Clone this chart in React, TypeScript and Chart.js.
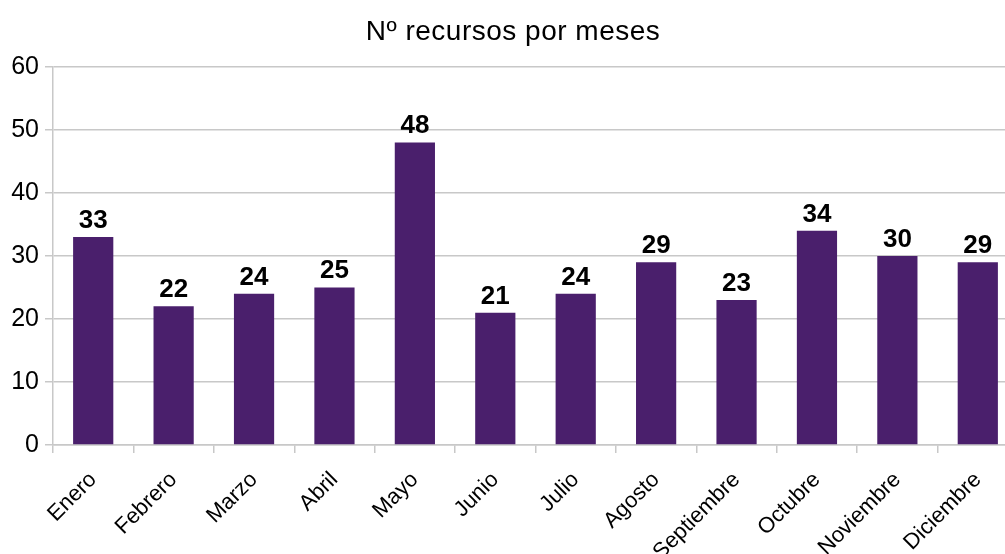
import React, { useEffect, useRef } from "react";
import { Chart, registerables } from "chart.js";

Chart.register(...registerables);

const categories = ["Enero", "Febrero", "Marzo", "Abril", "Mayo", "Junio", "Julio", "Agosto", "Septiembre", "Octubre", "Noviembre", "Diciembre"];
const recursos = [33, 22, 24, 25, 48, 21, 24, 29, 23, 34, 30, 29];
const yTicks = [0, 10, 20, 30, 40, 50, 60];
const titleText = "Nº recursos por meses";

const FONT = "'Liberation Sans', Arial, sans-serif";

const valueLabels = {
  id: "valueLabels",
  afterDatasetsDraw(chart: any) {
    const ctx = chart.ctx;
    const meta = chart.getDatasetMeta(0);
    const data = chart.data.datasets[0].data;
    ctx.save();
    ctx.font = `bold 26px ${FONT}`;
    ctx.fillStyle = "#000";
    ctx.textAlign = "center";
    ctx.textBaseline = "alphabetic";
    meta.data.forEach((bar: any, i: number) => {
      ctx.fillText(String(data[i]), bar.x, bar.y - 9);
    });
    ctx.restore();
  },
};

const customTitle = {
  id: "customTitle",
  afterDraw(chart: any) {
    const ctx = chart.ctx;
    ctx.save();
    ctx.font = `28px ${FONT}`;
    (ctx as any).letterSpacing = "0.5px";
    ctx.fillStyle = "#000";
    ctx.textAlign = "center";
    ctx.textBaseline = "alphabetic";
    ctx.fillText(titleText, 513, 40);
    ctx.restore();
  },
};

export default function App() {
  const ref = useRef<HTMLCanvasElement>(null);
  useEffect(() => {
    if (!ref.current) return;
    const chart = new Chart(ref.current, {
      type: "bar",
      data: {
        labels: categories,
        datasets: [
          {
            data: recursos,
            backgroundColor: "#4a1f6c",
            borderWidth: 0,
            barPercentage: 0.5,
            categoryPercentage: 1,
          },
        ],
      },
      plugins: [valueLabels, customTitle],
      options: {
        animation: false,
        responsive: true,
        maintainAspectRatio: false,
        layout: { padding: { left: 0, right: 2, top: 0, bottom: 0 } },
        plugins: {
          legend: { display: false },
          tooltip: { enabled: false },
          title: {
            display: true,
            text: titleText,
            color: "rgba(0,0,0,0)",
            font: { family: FONT, size: 24, weight: "normal" as any },
            padding: { top: 16, bottom: 22 },
          },
        },
        scales: {
          x: {
            grid: {
              offset: true,
              drawOnChartArea: false,
              drawTicks: true,
              tickLength: 8,
              color: "#c8c8c8",
              lineWidth: 1.5,
            },
            border: { display: true, color: "#c8c8c8", width: 1.5 },
            ticks: {
              color: "#000",
              font: { family: FONT, size: 22 },
              minRotation: 45,
              maxRotation: 45,
              autoSkip: false,
              padding: 14,
            },
            afterFit: (scale: any) => {
              scale.height = 109;
            },
          },
          y: {
            min: 0,
            max: 60,
            afterBuildTicks: (scale: any) => {
              scale.ticks = yTicks.map((v) => ({ value: v }));
            },
            grid: {
              color: "#c8c8c8",
              lineWidth: 1.5,
              drawTicks: true,
              tickLength: 8,
            },
            border: { display: true, color: "#c8c8c8", width: 1.5 },
            ticks: {
              color: "#000",
              font: { family: FONT, size: 25 },
              padding: 6,
            },
            afterFit: (scale: any) => {
              scale.width = 53;
            },
          },
        },
      },
    });
    return () => chart.destroy();
  }, []);
  return (
    <div style={{ position: "fixed", left: 0, top: 0, width: 1005, height: 554, overflow: "hidden", background: "#fff" }}>
      <div style={{ position: "relative", width: 1020, height: 554 }}>
        <canvas ref={ref} />
      </div>
    </div>
  );
}
